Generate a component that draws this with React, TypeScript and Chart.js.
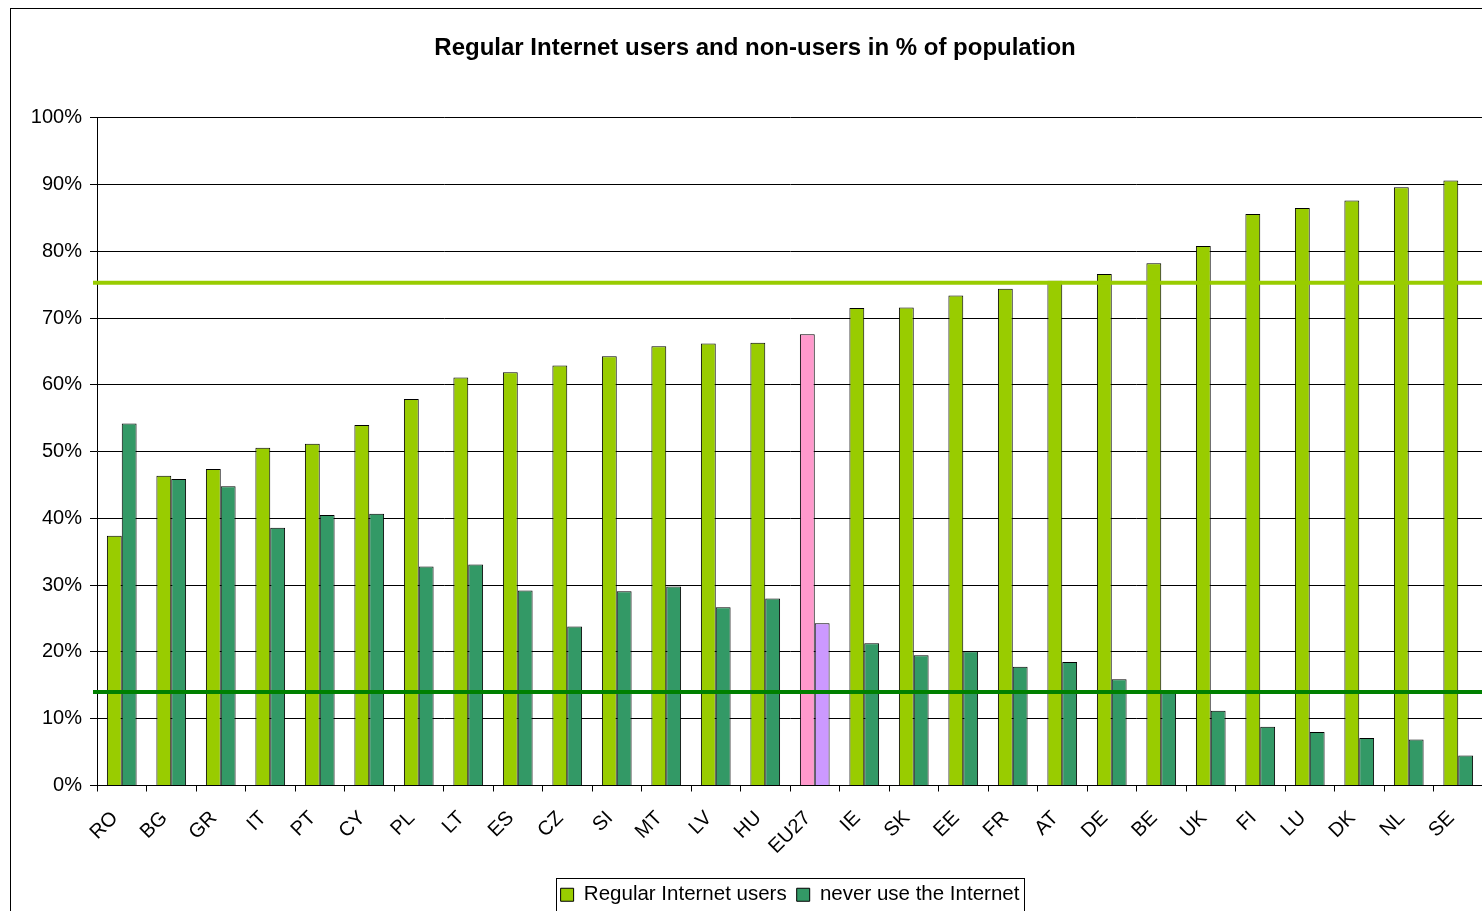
import React, { useEffect, useRef } from "react";
import { Chart, registerables } from "chart.js";

Chart.register(...registerables);

const countries = ["RO", "BG", "GR", "IT", "PT", "CY", "PL", "LT", "ES", "CZ", "SI", "MT", "LV", "HU", "EU27", "IE", "SK", "EE", "FR", "AT", "DE", "BE", "UK", "FI", "LU", "DK", "NL", "SE"];
const regularUsers = [37.4, 46.4, 47.4, 50.6, 51.2, 54.0, 57.9, 61.1, 61.9, 62.9, 64.3, 65.8, 66.2, 66.3, 67.6, 71.5, 71.6, 73.4, 74.4, 75.6, 76.6, 78.2, 80.8, 85.6, 86.5, 87.6, 89.6, 90.6];
const neverUsers = [54.2, 45.9, 44.8, 38.6, 40.5, 40.7, 32.8, 33.1, 29.2, 23.8, 29.1, 29.8, 26.7, 28.0, 24.3, 21.3, 19.5, 20.1, 17.8, 18.5, 15.9, 14.0, 11.2, 8.8, 8.0, 7.1, 6.9, 4.5];
const targetRegular = 75.3;
const targetNever = 14.0;
const highlightCategory = "EU27";

const FONT = "'Liberation Sans', Arial, sans-serif";

const framePlugin = {
  id: "frame",
  beforeDraw(chart: any) {
    const ctx = chart.ctx;
    ctx.save();
    ctx.fillStyle = "#fff";
    ctx.fillRect(0, 0, chart.width, chart.height);
    ctx.strokeStyle = "#000";
    ctx.lineWidth = 1;
    ctx.strokeRect(10.5, 8.5, 3000, 3000);
    ctx.restore();
  },
};

const shiftLegendPlugin = {
  id: "shiftLegend",
  afterLayout(chart: any) {
    const lg = chart.legend;
    if (lg) {
      lg.left += 35;
      lg.right += 35;
    }
  },
  afterDraw(chart: any) {
    const lg = chart.legend;
    if (!lg || !lg.legendHitBoxes || !lg.legendHitBoxes.length) return;
    const hb = lg.legendHitBoxes;
    let minX = Infinity, maxX = -Infinity;
    hb.forEach((h: any) => {
      minX = Math.min(minX, h.left);
      maxX = Math.max(maxX, h.left + h.width);
    });
    const ctx = chart.ctx;
    ctx.save();
    ctx.strokeStyle = "#000";
    ctx.lineWidth = 1;
    ctx.strokeRect(Math.round(minX - 5) + 0.5, Math.round(lg.top + 3) + 0.5, Math.round(maxX - minX + 9), 200);
    ctx.restore();
  },
};

const targetLinesPlugin = {
  id: "targetLines",
  afterDatasetsDraw(chart: any) {
    const ctx = chart.ctx;
    const y = chart.scales.y;
    const area = chart.chartArea;
    const lines = [
      { v: targetRegular, c: "#99CC00" },
      { v: targetNever, c: "#008000" },
    ];
    ctx.save();
    lines.forEach((l) => {
      const py = y.getPixelForValue(l.v);
      ctx.strokeStyle = l.c;
      ctx.lineWidth = 4;
      ctx.beginPath();
      ctx.moveTo(area.left - 4, py);
      ctx.lineTo(area.right + 20, py);
      ctx.stroke();
    });
    ctx.restore();
  },
};

export default function App() {
  const ref = useRef<HTMLCanvasElement | null>(null);

  useEffect(() => {
    if (!ref.current) return;
    const chart = new Chart(ref.current, {
      type: "bar",
      data: {
        labels: countries,
        datasets: [
          {
            label: "Regular Internet users",
            data: regularUsers,
            backgroundColor: (c: any) =>
              c.dataIndex !== undefined && countries[c.dataIndex] === highlightCategory ? "#FF99CC" : "#99CC00",
            borderColor: "#000",
            borderWidth: 1,
          },
          {
            label: "never use the Internet",
            data: neverUsers,
            backgroundColor: (c: any) =>
              c.dataIndex !== undefined && countries[c.dataIndex] === highlightCategory ? "#CC99FF" : "#339966",
            borderColor: "#000",
            borderWidth: 1,
          },
        ],
      },
      options: {
        animation: false,
        responsive: true,
        maintainAspectRatio: false,
        layout: { padding: { left: 27, right: 17, top: 0, bottom: 25 } },
        datasets: {
          bar: { categoryPercentage: 0.6, barPercentage: 1.0 },
        },
        plugins: {
          title: {
            display: true,
            text: "Regular Internet users and non-users in % of population",
            color: "#000",
            font: { family: FONT, size: 24, weight: "bold", lineHeight: 1.2 },
            padding: { top: 34, bottom: 55 },
          },
          legend: {
            display: true,
            position: "bottom",
            labels: {
              color: "#000",
              font: { family: FONT, size: 20.5 },
              boxWidth: 13,
              boxHeight: 13,
              padding: 10,
            },
          },
          tooltip: { enabled: false },
        },
        scales: {
          x: {
            offset: true,
            grid: {
              display: true,
              drawOnChartArea: false,
              drawTicks: true,
              tickLength: 6,
              color: "#000",
              offset: true,
            },
            border: { display: true, color: "#000", width: 1 },
            ticks: {
              color: "#000",
              font: { family: FONT, size: 20 },
              maxRotation: 45,
              minRotation: 45,
              autoSkip: false,
              padding: 15,
              labelOffset: -7,
            },
            afterFit(scale: any) {
              scale.height = 89;
            },
          },
          y: {
            min: 0,
            max: 100,
            grid: {
              color: "#000",
              lineWidth: 1,
              drawTicks: true,
              tickLength: 7,
            },
            border: { display: true, color: "#000", width: 1 },
            ticks: {
              stepSize: 10,
              color: "#000",
              font: { family: FONT, size: 20 },
              padding: 8,
              callback: (v: any) => v + "%",
            },
            afterFit(scale: any) {
              scale.width = 70;
            },
          },
        },
      },
      plugins: [framePlugin, shiftLegendPlugin, targetLinesPlugin],
    });
    return () => chart.destroy();
  }, []);

  return (
    <div style={{ position: "fixed", left: 0, top: 0, width: 1482, height: 911, overflow: "hidden", background: "#fff" }}>
      <div style={{ position: "absolute", left: 0, top: 0, width: 1500, height: 940 }}>
        <canvas ref={ref} />
      </div>
    </div>
  );
}
